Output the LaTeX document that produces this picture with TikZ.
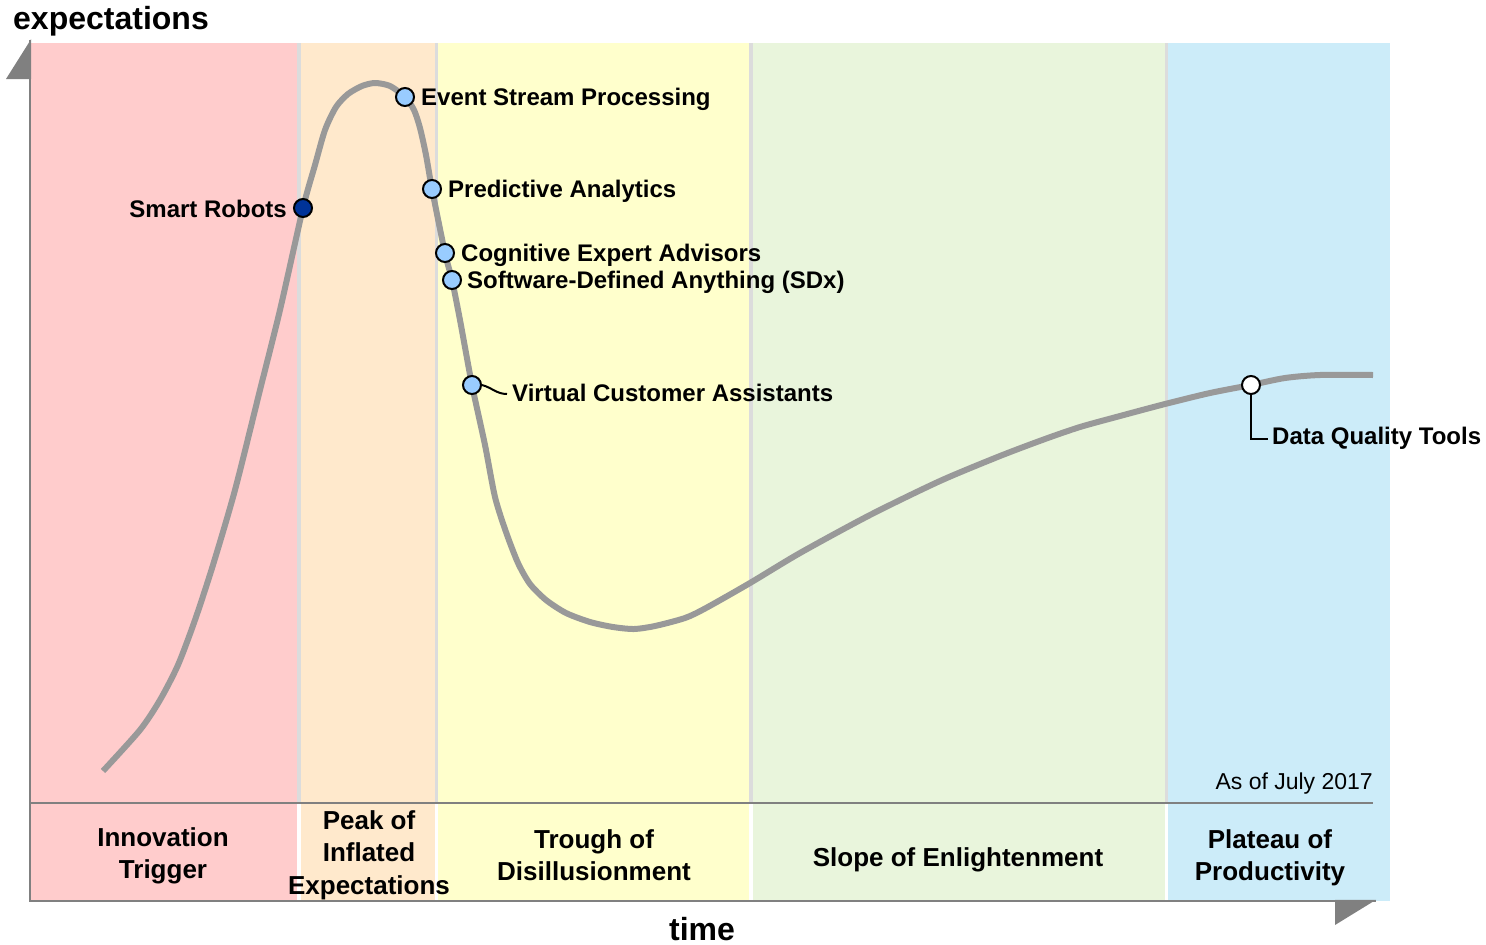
\documentclass[tikz,border=0pt]{standalone}
\usepackage{fontspec}
\setmainfont{Liberation Sans}
\begin{document}
\begin{tikzpicture}[x=1pt,y=-1pt,
  lab/.style={font=\bfseries\fontsize{24}{28}\selectfont, inner sep=2pt},
  phase/.style={font=\bfseries\fontsize{26}{32.5}\selectfont, align=center, inner sep=0pt},
  axtitle/.style={font=\bfseries\fontsize{32}{36}\selectfont, inner sep=0pt},
  dot/.style={circle, draw=black, line width=2pt, minimum size=18pt, inner sep=0pt},
  lbdot/.style={dot, fill=dotblue},
  axisline/.style={draw=axisgray, line width=2.5pt},
  sep/.style={fill=sepgray, draw=none}
]
\definecolor{cpink}{RGB}{255,204,204}
\definecolor{cpeach}{RGB}{255,233,204}
\definecolor{cyellow}{RGB}{255,255,204}
\definecolor{cgreen}{RGB}{233,245,220}
\definecolor{cblue}{RGB}{204,236,249}
\definecolor{sepgray}{RGB}{220,220,220}
\definecolor{axisgray}{RGB}{128,128,128}
\definecolor{curvegray}{RGB}{153,153,153}
\definecolor{dotblue}{RGB}{153,204,255}
\definecolor{dotdark}{RGB}{0,51,153}
\useasboundingbox (0,0) rectangle (1486,945);
% bands
\fill[cpink]   (31,43) rectangle (297,901);
\fill[cpeach]  (301,43) rectangle (435,901);
\fill[cyellow] (438,43) rectangle (749,901);
\fill[cgreen]  (753,43) rectangle (1165,901);
\fill[cblue]   (1168,43) rectangle (1390,901);
\fill[sepgray] (297,43) rectangle (301,803);
\fill[sepgray] (435,43) rectangle (438,803);
\fill[sepgray] (749,43) rectangle (753,803);
\fill[sepgray] (1165,43) rectangle (1168,803);
% axes
\draw[axisline] (30,901) -- (30,40);
\fill[axisgray] (6,79) -- (31.2,79) -- (31.2,39) -- cycle;
\draw[axisline] (29,901) -- (1376,901);
\fill[axisgray] (1335,899.8) -- (1376,899.8) -- (1335,925) -- cycle;
\draw[draw=axisgray, line width=2pt] (30,803) -- (1373,803);
% axis titles
\node[axtitle, anchor=base west] (ylab) at (13,29) {expectations};
\node[axtitle, anchor=base] (xlab) at (702,940) {time};
% phase labels
\node[phase] (p1) at (163,856) {Innovation\\Trigger};
\node[phase] (p2) at (369,855) {Peak of\\Inflated\\Expectations};
\node[phase] (p3) at (594,855) {Trough of\\Disillusionment};
\node[phase] (p4) at (958,860) {Slope of Enlightenment};
\node[phase] (p5) at (1270,858) {Plateau of\\Productivity};
\node[anchor=east, inner sep=0pt, font=\fontsize{23}{27}\selectfont] (asof) at (1373,784) {As of July 2017};
% curve
\draw[curvegray, line width=6pt, line join=round] plot[smooth, tension=0.45] coordinates {
 (103,771) (140,730) (160,700) (178,665) (195,620) (213,565) (235,490) (260,390)
 (280,310) (303,208) (315,165) (325,130) (336,107) (348,94) (362,86) (375,83) (390,86)
 (405,97) (414,110) (420,128) (426,155) (432,189) (445,253) (452,280) (460,320) (472,385)
 (485,445) (495,497) (506,532) (518,563) (530,584) (546,600) (566,613) (590,622)
 (613,627) (634,629) (655,626) (685,618) (706,608) (750,583) (800,553) (870,515)
 (940,481) (1000,456) (1045,439) (1080,427) (1120,416) (1165,404) (1210,393)
 (1251,385) (1285,378) (1320,375) (1373,375)};
% dots and labels
\node[dot, fill=dotdark] (d1) at (303,208) {};
\node[lab, anchor=east] (l1) at (289,209) {Smart Robots};
\node[lbdot] (d2) at (405,97) {};
\node[lab, anchor=west] (l2) at (419,99) {Event Stream Processing};
\node[lbdot] (d3) at (432,189) {};
\node[lab, anchor=west] (l3) at (446,191) {Predictive Analytics};
\node[lbdot] (d4) at (445,253) {};
\node[lab, anchor=west] (l4) at (459,255) {Cognitive Expert Advisors};
\node[lbdot] (d5) at (452,280) {};
\node[lab, anchor=west] (l5) at (465,282) {Software-Defined Anything (SDx)};
\node[lbdot] (d6) at (472,385) {};
\node[lab, anchor=west] (l6) at (510,393) {Virtual Customer Assistants};
\draw[black, line width=2pt] (d6.east) to[out=-15,in=180] ([xshift=-3pt,yshift=-1pt]l6.west);
\node[dot, fill=white] (d7) at (1251,385) {};
\node[lab, anchor=west] (l7) at (1270,438) {Data Quality Tools};
\draw[black, line width=2pt] (d7.south) |- ([xshift=-2pt,yshift=-1pt]l7.west);
\end{tikzpicture}
\end{document}
